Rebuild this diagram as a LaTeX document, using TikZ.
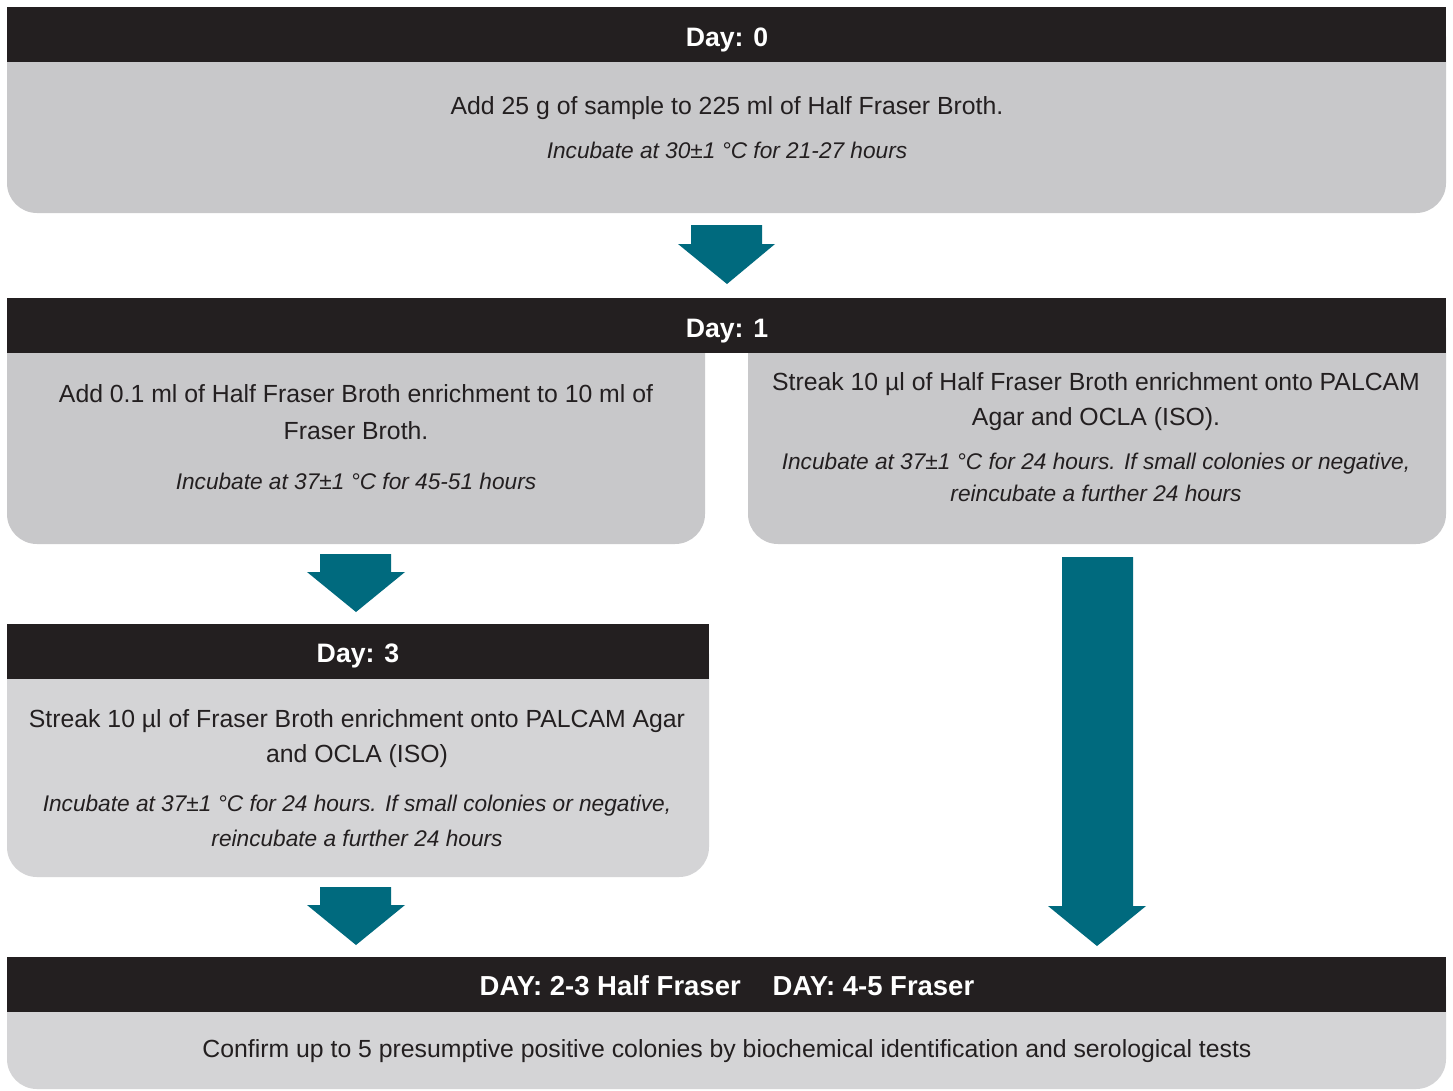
\documentclass[tikz,border=0pt]{standalone}
\usepackage{fontspec}
\setmainfont{Liberation Sans}
\usetikzlibrary{fit}
\definecolor{hdr}{HTML}{231F20}
\definecolor{greyA}{HTML}{C8C8CA}
\definecolor{greyB}{HTML}{D4D4D6}
\definecolor{teal}{HTML}{006A7E}
\definecolor{txt}{HTML}{231F20}
\begin{document}
\begin{tikzpicture}[x=0.75pt,y=-0.75pt,
  bodyA/.style={fill=greyA,rounded corners=22.5pt,inner sep=0pt,draw=none},
  bodyB/.style={fill=greyB,rounded corners=22.5pt,inner sep=0pt,draw=none},
  header/.style={fill=hdr,inner sep=0pt,draw=none},
  htext/.style={anchor=base,text=white,font=\fontsize{20}{24}\selectfont\bfseries,inner sep=0pt},
  ftext/.style={anchor=base,text=white,font=\fontsize{20.6}{24}\selectfont\bfseries,inner sep=0pt},
  mtext/.style={anchor=base,text=txt,font=\fontsize{18.6}{22}\selectfont,inner sep=0pt},
  itext/.style={anchor=base,text=txt,font=\fontsize{17}{20}\selectfont\itshape,inner sep=0pt},
  blockarrow/.style={fill=teal,draw=none}]
\useasboundingbox[fill=white] (0,0) rectangle (1453,1090);

% Day 0
\node[bodyA,fit={(7,7) (1446,213)}] (b0) {};
\node[header,fit={(7,7) (1446,62)}] (h0) {};
\node[htext] (h0t) at (727,46) {Day: 0};
\node[mtext] (b0a) at (727,114) {Add 25 g of sample to 225 ml of Half Fraser Broth.};
\node[itext] (b0b) at (727,158) {Incubate at 30±1 °C for 21-27 hours};

% arrow 1
\fill[blockarrow] (691,225) -- (762,225) -- (762,244) -- (775,244) -- (727,284) -- (678,244) -- (691,244) -- cycle;

% Day 1
\node[bodyA,fit={(7,298) (705,544)}] (b1l) {};
\node[bodyA,fit={(748,298) (1446,544)}] (b1r) {};
\node[header,fit={(7,298) (1446,353)}] (h1) {};
\node[htext] (h1t) at (727,337) {Day: 1};
\node[mtext] (b1la) at (356,402) {Add 0.1 ml of Half Fraser Broth enrichment to 10 ml of};
\node[mtext] (b1lb) at (356,439) {Fraser Broth.};
\node[itext] (b1lc) at (356,489) {Incubate at 37±1 °C for 45-51 hours};
\node[mtext] (b1ra) at (1096,390) {Streak 10 µl of Half Fraser Broth enrichment onto PALCAM};
\node[mtext] (b1rb) at (1096,425) {Agar and OCLA (ISO).};
\node[itext] (b1rc) at (1096,469) {Incubate at 37±1 °C for 24 hours. If small colonies or negative,};
\node[itext] (b1rd) at (1096,501) {reincubate a further 24 hours};

% arrow 2
\fill[blockarrow] (320,554) -- (391,554) -- (391,572) -- (405,572) -- (356,612) -- (307,572) -- (320,572) -- cycle;

% Day 3
\node[bodyB,fit={(7,624) (709,877)}] (b3) {};
\node[header,fit={(7,624) (709,679)}] (h3) {};
\node[htext] (h3t) at (358,662) {Day: 3};
\node[mtext] (b3a) at (357,727) {Streak 10 µl of Fraser Broth enrichment onto PALCAM Agar};
\node[mtext] (b3b) at (357,762) {and OCLA (ISO)};
\node[itext] (b3c) at (357,811) {Incubate at 37±1 °C for 24 hours. If small colonies or negative,};
\node[itext] (b3d) at (357,846) {reincubate a further 24 hours};

% arrow 3
\fill[blockarrow] (320,887) -- (391,887) -- (391,905) -- (405,905) -- (356,945) -- (307,905) -- (320,905) -- cycle;

% long arrow
\fill[blockarrow] (1062,557) -- (1133,557) -- (1133,906) -- (1146,906) -- (1097,946) -- (1048,906) -- (1062,906) -- cycle;

% Final
\node[bodyB,fit={(7,957) (1446,1089)}] (b4) {};
\node[header,fit={(7,957) (1446,1012)}] (h4) {};
\node[ftext] (h4t) at (727,995) {DAY: 2-3 Half Fraser\hspace{24pt}DAY: 4-5 Fraser};
\node[mtext] (b4a) at (727,1057) {Confirm up to 5 presumptive positive colonies by biochemical identification and serological tests};
\end{tikzpicture}
\end{document}
